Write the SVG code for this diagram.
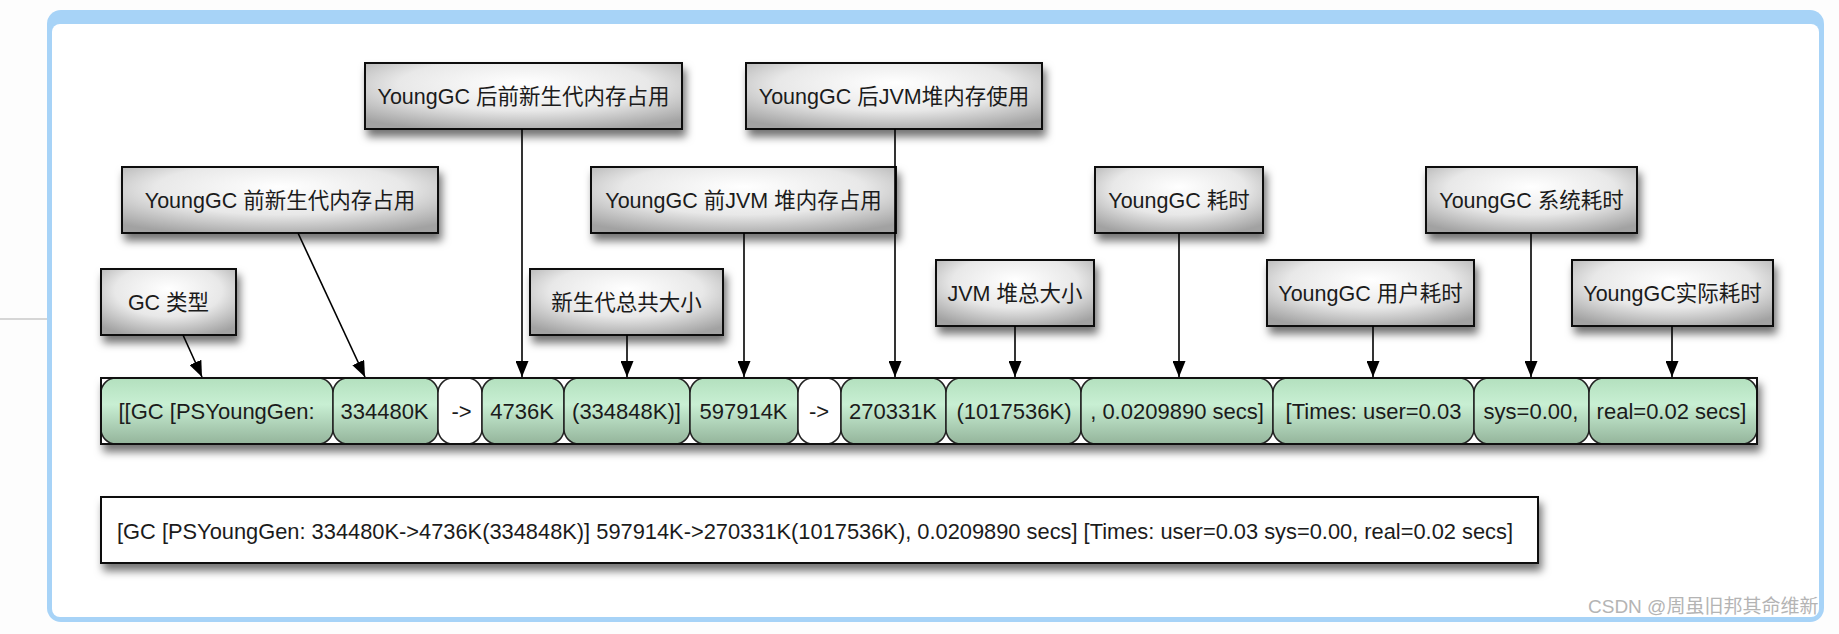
<svg xmlns="http://www.w3.org/2000/svg" width="1839" height="634" viewBox="0 0 1839 634">
<defs>
<radialGradient id="gLbl" cx="0.5" cy="0.35" r="0.72" fx="0.5" fy="0.3">
<stop offset="0" stop-color="#ffffff"/>
<stop offset="0.55" stop-color="#e8e8e8"/>
<stop offset="1" stop-color="#a2a2a2"/>
</radialGradient>
<linearGradient id="gCell" x1="0" y1="0" x2="0" y2="1">
<stop offset="0" stop-color="#b3e0be"/>
<stop offset="0.4" stop-color="#c8efd3"/>
<stop offset="1" stop-color="#94b49b"/>
</linearGradient>
<filter id="sh" x="-10%" y="-30%" width="125%" height="180%">
<feDropShadow dx="3" dy="7" stdDeviation="4" flood-color="#000" flood-opacity="0.55"/>
</filter>
<marker id="ah" viewBox="0 0 16 13" refX="16" refY="6.5" markerWidth="16" markerHeight="13" markerUnits="userSpaceOnUse" orient="auto">
<path d="M0,0 L16,6.5 L0,13 z" fill="#000"/>
</marker>
<style>
.box{fill:url(#gLbl);stroke:#111;stroke-width:2;filter:url(#sh)}
.cell{fill:url(#gCell);stroke:#222;stroke-width:1.5}
.wcell{fill:#fff;stroke:#222;stroke-width:1.5}
.t{font-family:"Liberation Sans","Noto Sans CJK SC",sans-serif;font-size:21.5px;fill:#1b1b1b;text-anchor:middle}
.c{font-family:"Liberation Sans","Noto Sans CJK SC",sans-serif;font-size:22px;fill:#1b1b1b;text-anchor:middle}
.conn line{stroke:#000;stroke-width:1.6;marker-end:url(#ah)}
</style>
</defs>
<rect width="1839" height="634" fill="#fdfdfd"/>
<line x1="0" y1="319" x2="57" y2="319" stroke="#b0b0b0" stroke-width="1.2"/>
<g id="frame">
<rect x="47" y="10" width="1777" height="612" rx="14" fill="#a7d3f7"/>
<rect x="52" y="24" width="1767" height="593" rx="8" fill="#ffffff"/>
</g>

<g id="n-after-young"><rect class="box" x="365" y="63" width="317" height="66"/><text class="t" x="523.5" y="103.5">YoungGC 后前新生代内存占用</text></g>
<g id="n-after-jvm"><rect class="box" x="746" y="63" width="296" height="66"/><text class="t" x="894" y="103.5">YoungGC 后JVM堆内存使用</text></g>
<g id="n-before-young"><rect class="box" x="122" y="167" width="316" height="66"/><text class="t" x="280" y="207.5">YoungGC 前新生代内存占用</text></g>
<g id="n-before-jvm"><rect class="box" x="591" y="167" width="305" height="66"/><text class="t" x="743.5" y="207.5">YoungGC 前JVM 堆内存占用</text></g>
<g id="n-time"><rect class="box" x="1095" y="167" width="168" height="66"/><text class="t" x="1179" y="207.5">YoungGC 耗时</text></g>
<g id="n-sys"><rect class="box" x="1426" y="167" width="211" height="66"/><text class="t" x="1531.5" y="207.5">YoungGC 系统耗时</text></g>
<g id="n-gctype"><rect class="box" x="101" y="269" width="135" height="66"/><text class="t" x="168.5" y="309.5">GC 类型</text></g>
<g id="n-young-total"><rect class="box" x="530" y="269" width="193" height="66"/><text class="t" x="626.5" y="309.5">新生代总共大小</text></g>
<g id="n-jvm-total"><rect class="box" x="936" y="260" width="158" height="66"/><text class="t" x="1015" y="300.5">JVM 堆总大小</text></g>
<g id="n-user"><rect class="box" x="1267" y="260" width="207" height="66"/><text class="t" x="1370.5" y="300.5">YoungGC 用户耗时</text></g>
<g id="n-real"><rect class="box" x="1572" y="260" width="201" height="66"/><text class="t" x="1672.5" y="300.5">YoungGC实际耗时</text></g>

<g id="n-row">
<rect x="101" y="378" width="1656" height="66" fill="#fff" stroke="#111" stroke-width="2" filter="url(#sh)"/>
<rect class="cell" x="101" y="378" width="232" height="66" rx="15"/>
<rect class="cell" x="333" y="378" width="105" height="66" rx="15"/>
<rect class="wcell" x="438" y="378" width="44" height="66" rx="15"/>
<rect class="cell" x="482" y="378" width="82" height="66" rx="15"/>
<rect class="cell" x="564" y="378" width="126" height="66" rx="15"/>
<rect class="cell" x="690" y="378" width="108" height="66" rx="15"/>
<rect class="wcell" x="798" y="378" width="43" height="66" rx="15"/>
<rect class="cell" x="841" y="378" width="105" height="66" rx="15"/>
<rect class="cell" x="946" y="378" width="135" height="66" rx="15"/>
<rect class="cell" x="1081" y="378" width="192" height="66" rx="15"/>
<rect class="cell" x="1273" y="378" width="201" height="66" rx="15"/>
<rect class="cell" x="1474" y="378" width="115" height="66" rx="15"/>
<rect class="cell" x="1589" y="378" width="168" height="66" rx="15"/>
<rect x="101" y="378" width="1656" height="66" fill="none" stroke="#111" stroke-width="2"/>
<text class="c" x="216.5" y="419">[[GC [PSYoungGen:</text>
<text class="c" x="384.5" y="419">334480K</text>
<text class="c" x="461.5" y="419">-&gt;</text>
<text class="c" x="522" y="419">4736K</text>
<text class="c" x="626.5" y="419">(334848K)]</text>
<text class="c" x="743.5" y="419">597914K</text>
<text class="c" x="819" y="419">-&gt;</text>
<text class="c" x="893" y="419">270331K</text>
<text class="c" x="1014" y="419">(1017536K)</text>
<text class="c" x="1177" y="419">, 0.0209890 secs]</text>
<text class="c" x="1373.5" y="419">[Times: user=0.03</text>
<text class="c" x="1531" y="419">sys=0.00,</text>
<text class="c" x="1671.5" y="419">real=0.02 secs]</text>
</g>

<g id="n-full">
<rect x="101" y="497" width="1437" height="66" fill="#fff" stroke="#111" stroke-width="2" filter="url(#sh)"/>
<text x="117" y="539" font-family="Liberation Sans, Noto Sans CJK SC, sans-serif" font-size="21.5" fill="#1b1b1b" textLength="1396" lengthAdjust="spacingAndGlyphs">[GC [PSYoungGen: 334480K-&gt;4736K(334848K)] 597914K-&gt;270331K(1017536K), 0.0209890 secs] [Times: user=0.03 sys=0.00, real=0.02 secs]</text>
</g>

<g id="connectors" class="conn">
<line x1="183" y1="335" x2="202" y2="377"/>
<line x1="298" y1="233" x2="365" y2="377"/>
<line x1="522" y1="129" x2="522" y2="377"/>
<line x1="627" y1="335" x2="627" y2="377"/>
<line x1="744" y1="233" x2="744" y2="377"/>
<line x1="895" y1="129" x2="895" y2="377"/>
<line x1="1015" y1="326" x2="1015" y2="377"/>
<line x1="1179" y1="233" x2="1179" y2="377"/>
<line x1="1373" y1="326" x2="1373" y2="377"/>
<line x1="1531" y1="233" x2="1531" y2="377"/>
<line x1="1672" y1="326" x2="1672" y2="377"/>
</g>

<text x="1588" y="613" font-family="Liberation Sans, Noto Sans CJK SC, sans-serif" font-size="19" fill="#b4b4b4">CSDN @周虽旧邦其命维新</text>
</svg>
